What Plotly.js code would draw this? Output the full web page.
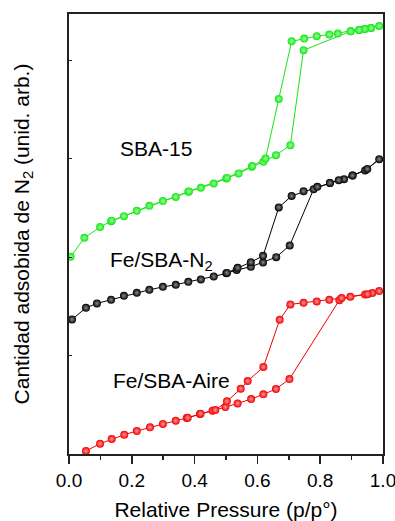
<!DOCTYPE html>
<html><head><meta charset="utf-8">
<script src="https://cdn.plot.ly/plotly-3.0.1.min.js"></script>
<style>html,body{margin:0;padding:0;background:#fff;overflow:hidden}#chart{width:395px;height:521px}</style>
</head><body><div id="chart"></div>
<script>
// SBA-15 (adsorption then desorption)
const sbaX = [0.005,0.049,0.099,0.134,0.175,0.216,0.256,0.299,0.340,0.380,0.420,0.461,0.501,0.540,0.582,0.619,0.659,0.705,0.747,0.897,0.924,0.942,0.962,0.988,
              0.962,0.942,0.924,0.897,0.856,0.829,0.789,0.749,0.709,0.668,0.626,0.584,0.503,0.382,0.136];
const sbaY = [2.003,2.196,2.305,2.365,2.416,2.470,2.521,2.569,2.612,2.663,2.704,2.748,2.799,2.850,2.917,2.968,3.036,3.137,4.102,4.294,4.308,4.318,4.328,4.348,
              4.328,4.318,4.308,4.294,4.271,4.261,4.244,4.220,4.193,3.607,3.002,2.925,2.805,2.668,2.370];
// Fe/SBA-N2
const n2X = [0.0096,0.054,0.089,0.134,0.175,0.216,0.256,0.299,0.340,0.380,0.420,0.461,0.501,0.534,0.579,0.618,0.660,0.703,0.779,0.831,0.876,0.903,0.943,0.988,
             0.950,0.903,0.859,0.831,0.791,0.747,0.709,0.668,0.618,0.579,0.537,0.503];
const n2Y = [1.367,1.485,1.530,1.567,1.607,1.638,1.668,1.698,1.719,1.749,1.774,1.804,1.835,1.870,1.902,1.946,2.000,2.119,2.690,2.754,2.792,2.829,2.880,2.995,
             2.896,2.829,2.782,2.754,2.714,2.670,2.622,2.505,2.013,1.949,1.891,1.840];
// Fe/SBA-Aire
const aireX = [0.010,0.054,0.099,0.136,0.176,0.216,0.258,0.299,0.340,0.375,0.417,0.457,0.498,0.537,0.580,0.619,0.659,0.702,0.861,0.896,0.943,0.966,0.988,
               0.951,0.868,0.829,0.789,0.747,0.705,0.671,0.619,0.569,0.547,0.503,0.466,0.419,0.378];
const aireY = [-0.300,0.030,0.105,0.152,0.196,0.234,0.271,0.305,0.338,0.365,0.406,0.440,0.477,0.514,0.558,0.606,0.660,0.761,1.563,1.597,1.621,1.635,1.655,
               1.624,1.584,1.567,1.550,1.536,1.520,1.364,0.883,0.741,0.663,0.535,0.447,0.410,0.368];

const labels = ['SBA-15','Fe/SBA-N<sub>2</sub>','Fe/SBA-Aire'];
const xTicks = [0,0.2,0.4,0.6,0.8,1.0];
const xTickText = ['0.0','0.2','0.4','0.6','0.8','1.0'];
const xMinor = [0.1,0.3,0.5,0.7,0.9];

function tr(x,y,c,center){
  return {x:x,y:y,mode:'lines+markers',type:'scatter',cliponaxis:true,
    line:{color:c,width:1},
    marker:{size:8,color:c,gradient:{type:'radial',color:center},line:{width:0}},
    showlegend:false,hoverinfo:'skip'};
}
const data = [
  tr(sbaX,sbaY,'#14e614','#a0ffa0'),
  tr(n2X,n2Y,'#000000','#8a8a8a'),
  tr(aireX,aireY,'#f00000','#ff9a9a')
];
const font = {family:'Liberation Sans, Arial, sans-serif',color:'#000'};
const layout = {
  width:395,height:521,
  margin:{l:69,r:12,t:14,b:67},
  paper_bgcolor:'#fff',plot_bgcolor:'#fff',
  font:font,
  xaxis:{range:[0,1],tickmode:'array',tickvals:xTicks,ticktext:xTickText,ticks:'outside',ticklen:8,tickwidth:1.5,tickcolor:'#222',
    ticklabeloverflow:'allow',
    minor:{tickmode:'array',tickvals:xMinor,ticks:'outside',ticklen:4,tickwidth:1.5,tickcolor:'#222',showgrid:false},
    showline:true,linecolor:'#222',linewidth:2,mirror:true,showgrid:false,zeroline:false,
    tickfont:{family:font.family,size:19,color:'#000'},
    title:{text:'Relative Pressure (p/p°)',font:{family:font.family,size:21,color:'#000'},standoff:13}},
  yaxis:{range:[0,4.47],tick0:0,dtick:1,ticks:'inside',ticklen:3,tickwidth:1,tickcolor:'#222',showticklabels:false,
    showline:true,linecolor:'#222',linewidth:2,mirror:true,showgrid:false,zeroline:false,
    title:{text:'Cantidad adsobida de N<sub>2</sub> (unid. arb.)',font:{family:font.family,size:21,color:'#000'},standoff:32}},
  annotations:[
    {x:0.277,y:3.107,xref:'x',yref:'y',text:labels[0],showarrow:false,font:{family:font.family,size:21,color:'#000'}},
    {x:0.295,y:1.96,xref:'x',yref:'y',text:labels[1],showarrow:false,font:{family:font.family,size:21,color:'#000'}},
    {x:0.325,y:0.751,xref:'x',yref:'y',text:labels[2],showarrow:false,font:{family:font.family,size:21,color:'#000'}}
  ]
};
Plotly.newPlot('chart',data,layout,{displayModeBar:false,staticPlot:true});
</script></body></html>
